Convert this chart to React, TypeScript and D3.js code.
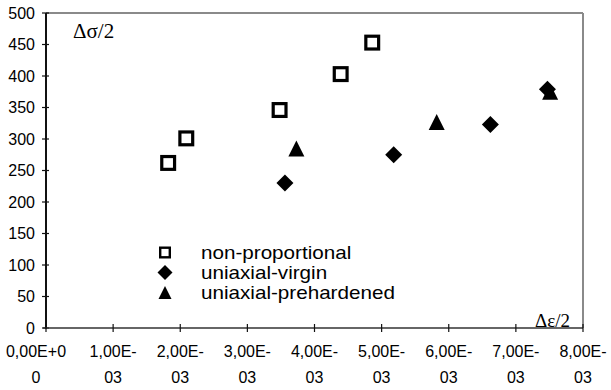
import React from "react";
import * as d3 from "d3";

// Strain amplitude (Δε/2) and stress amplitude (Δσ/2) per loading history
const nonPropStrain = [0.00182, 0.00209, 0.00348, 0.00439, 0.00486];
const nonPropStress = [262, 301, 346, 403, 453];
const virginStrain = [0.00356, 0.00518, 0.00662, 0.00747];
const virginStress = [230, 275, 323, 379];
const prehardStrain = [0.00373, 0.00582, 0.00751];
const prehardStress = [285, 327, 375];

const xTicks = [0, 0.001, 0.002, 0.003, 0.004, 0.005, 0.006, 0.007, 0.008];
const xTickTop = ["0,00E+0", "1,00E-", "2,00E-", "3,00E-", "4,00E-", "5,00E-", "6,00E-", "7,00E-", "8,00E-"];
const xTickBottom = ["0", "03", "03", "03", "03", "03", "03", "03", "03"];
const yTicks = [0, 50, 100, 150, 200, 250, 300, 350, 400, 450, 500];

const legendLabels = ["non-proportional", "uniaxial-virgin", "uniaxial-prehardened"];

const W = 611;
const H = 390;
const left = 46;
const right = 583;
const top = 13;
const bottom = 328;

const sans = "'Liberation Sans', Arial, Helvetica, sans-serif";
const serif = "'Liberation Serif', 'Times New Roman', serif";

const x = d3.scaleLinear().domain([0, 0.008]).range([left, right]);
const y = d3.scaleLinear().domain([0, 500]).range([bottom, top]);

// keep the first category label inside the page edge
const labelX = (t: number, i: number) => (i === 0 ? Math.max(x(t), 36) - 10 : x(t));

function Square({ cx, cy, s }: { cx: number; cy: number; s: number }) {
  const sw = s * 0.2;
  return (
    <rect
      x={cx - s / 2 + sw / 2}
      y={cy - s / 2 + sw / 2}
      width={s - sw}
      height={s - sw}
      fill="#fff"
      stroke="#000"
      strokeWidth={sw}
    />
  );
}

function Diamond({ cx, cy, r }: { cx: number; cy: number; r: number }) {
  return (
    <path
      d={`M${cx},${cy - r}L${cx + r},${cy}L${cx},${cy + r}L${cx - r},${cy}Z`}
      fill="#000"
    />
  );
}

function Triangle({ cx, cy, s }: { cx: number; cy: number; s: number }) {
  return (
    <path
      d={`M${cx},${cy - s / 2}L${cx + s / 2},${cy + s / 2}L${cx - s / 2},${cy + s / 2}Z`}
      fill="#000"
    />
  );
}

export default function App() {
  const legendY = [252.5, 272.5, 292.5];
  const legendX = 165;
  return (
    <svg
      width={W}
      height={H}
      style={{ position: "absolute", left: 0, top: 0, background: "#fff" }}
    >
      {/* frame: top and right borders are lighter */}
      <line x1={left} x2={right} y1={top} y2={top} stroke="#8a8a8a" strokeWidth={2} />
      <line x1={right} x2={right} y1={top} y2={bottom} stroke="#8a8a8a" strokeWidth={2} />

      {/* y axis */}
      <line x1={left} x2={left} y1={top} y2={bottom + 1} stroke="#111" strokeWidth={2} />
      {yTicks.map((t) => (
        <g key={`y${t}`}>
          <line x1={left - 4} x2={left + 3} y1={y(t)} y2={y(t)} stroke="#111" strokeWidth={1.2} />
          <text
            x={left - 11}
            y={y(t)}
            dy="0.35em"
            textAnchor="end"
            fontFamily={sans}
            fontSize={16}
            fill="#000"
          >
            {t}
          </text>
        </g>
      ))}

      {/* x axis */}
      <line x1={left - 3} x2={right} y1={bottom} y2={bottom} stroke="#333" strokeWidth={1.6} />
      {xTicks.map((t, i) => (
        <g key={`x${t}`}>
          <line x1={x(t)} x2={x(t)} y1={bottom - 4} y2={bottom + 4} stroke="#111" strokeWidth={1.2} />
          <text x={labelX(t, i)} y={357} textAnchor="middle" fontFamily={sans} fontSize={16} fill="#000">
            {xTickTop[i]}
          </text>
          <text x={labelX(t, i)} y={383} textAnchor="middle" fontFamily={sans} fontSize={16} fill="#000">
            {xTickBottom[i]}
          </text>
        </g>
      ))}

      {/* axis titles */}
      <text x={73} y={38} fontFamily={serif} fontSize={21} fill="#000">
        Δσ/2
      </text>
      <text x={535} y={327} fontFamily={serif} fontSize={19} fill="#000">
        Δε/2
      </text>

      {/* data */}
      {nonPropStrain.map((v, i) => (
        <Square key={`np${i}`} cx={x(v)} cy={y(nonPropStress[i])} s={16} />
      ))}
      {virginStrain.map((v, i) => (
        <Diamond key={`uv${i}`} cx={x(v)} cy={y(virginStress[i])} r={8.5} />
      ))}
      {prehardStrain.map((v, i) => (
        <Triangle key={`up${i}`} cx={x(v)} cy={y(prehardStress[i])} s={16} />
      ))}

      {/* legend */}
      <Square cx={legendX} cy={legendY[0]} s={12} />
      <Diamond cx={legendX} cy={legendY[1]} r={7.5} />
      <Triangle cx={legendX} cy={legendY[2]} s={13} />
      {legendLabels.map((l, i) => (
        <text
          key={l}
          transform={`translate(201,${legendY[i]}) scale(1.18,1)`}
          dy="0.35em"
          fontFamily={sans}
          fontSize={17.5}
          fill="#000"
        >
          {l}
        </text>
      ))}
    </svg>
  );
}
